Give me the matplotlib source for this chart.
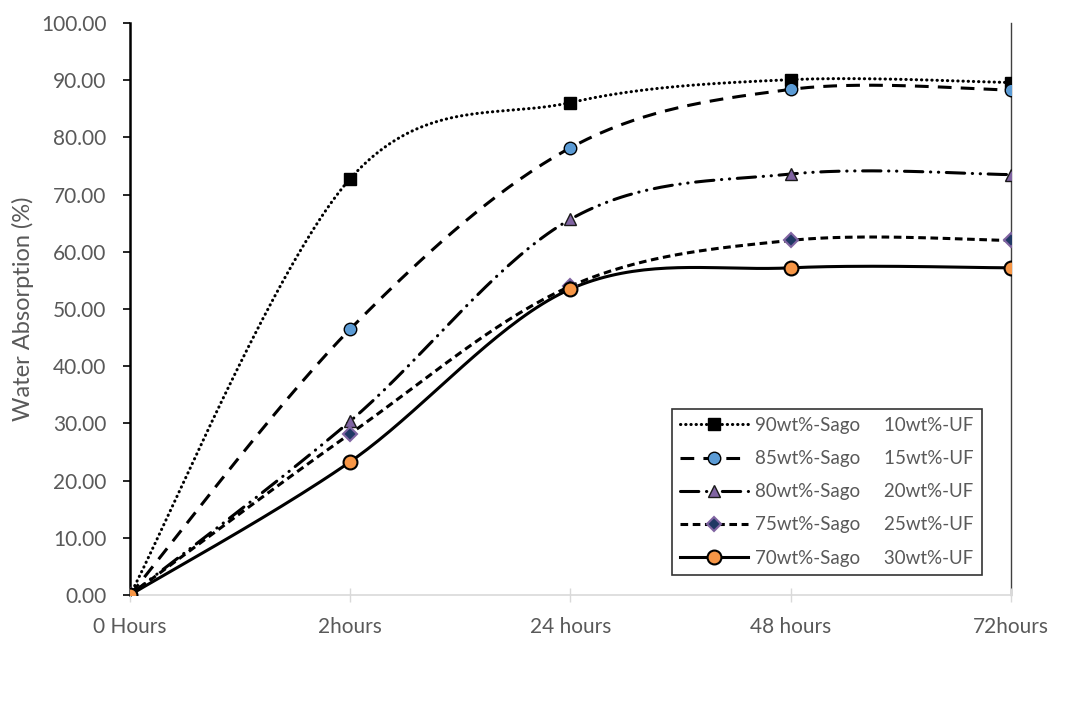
import numpy as np
import matplotlib; matplotlib.use("Agg")
import matplotlib.pyplot as plt
from matplotlib.lines import Line2D

plt.rcParams["font.family"] = ["Lato", "DejaVu Sans"]

categories = ["0 Hours", "2hours", "24 hours", "48 hours", "72hours"]
sago_90 = [0.0, 72.8, 86.1, 90.1, 89.6]
sago_85 = [0.0, 46.5, 78.2, 88.4, 88.3]
sago_80 = [0.0, 30.4, 65.7, 73.6, 73.5]
sago_75 = [0.0, 28.2, 54.0, 62.0, 62.0]
sago_70 = [0.0, 23.3, 53.5, 57.2, 57.2]
labels = ["90wt%-Sago     10wt%-UF", "85wt%-Sago     15wt%-UF", "80wt%-Sago     20wt%-UF",
          "75wt%-Sago     25wt%-UF", "70wt%-Sago     30wt%-UF"]

def smooth(y, n=40):
    # Excel-like smoothed line: Catmull-Rom style cubic Bezier between points
    x = np.arange(len(y), dtype=float); y = np.asarray(y, float)
    P = np.column_stack([x, y])
    xs, ys = [], []
    for i in range(len(P) - 1):
        p0 = P[i - 1] if i > 0 else P[i]
        p3 = P[i + 2] if i + 2 < len(P) else P[i + 1]
        c1 = P[i] + (P[i + 1] - p0) / 6
        c2 = P[i + 1] - (p3 - P[i]) / 6
        t = np.linspace(0, 1, n)[:, None]
        b = (1-t)**3*P[i] + 3*(1-t)**2*t*c1 + 3*(1-t)*t**2*c2 + t**3*P[i+1]
        xs.append(b[:, 0]); ys.append(b[:, 1])
    return np.concatenate(xs), np.concatenate(ys)

series = [
    (sago_90, dict(ls=(0, (0.1, 1.6)), dash_capstyle="round"), dict(marker="s", ms=9, mfc="black", mec="black")),
    (sago_85, dict(ls=(0, (4.5, 3))), dict(marker="o", ms=9, mfc="#5B9BD5", mec="black")),
    (sago_80, dict(ls=(0, (6, 2.5, 0.1, 2.5, 0.1, 2.5)), dash_capstyle="round"), dict(marker="^", ms=9, mfc="#8064A2", mec="#1a1a1a", mew=1)),
    (sago_75, dict(ls=(0, (2.5, 1.5))), dict(marker="D", ms=7, mfc="#1F3864", mec="#8064A2", mew=1.5)),
    (sago_70, dict(ls="-"), dict(marker="o", ms=10, mfc="#F79646", mec="black", mew=1.5)),
]

fig = plt.figure(figsize=(10.76, 7.02), dpi=100)
ax = fig.add_axes([0.1208, 0.1524, 0.8188, 0.8148])
x = np.arange(len(categories))
handles = []
for vals, lk, mk in series:
    sx, sy = smooth(vals)
    ax.plot(sx, sy, color="black", lw=2.2, zorder=2, **lk)
    ax.plot(x, vals, ls="none", zorder=3, **mk)
    handles.append(Line2D([], [], color="black", lw=2.2, **lk, **mk))

ax.set_xlim(0, 4); ax.set_ylim(0, 100)
ax.set_yticks(np.arange(0, 101, 10))
ax.set_yticklabels([f"{v:.2f}" for v in np.arange(0, 101, 10)])
ax.set_xticks(x); ax.set_xticklabels(categories)
ax.tick_params(axis="y", direction="out", length=5, width=1.2, color="black", labelsize=15, labelcolor="#595959", pad=12)
ax.tick_params(axis="x", direction="inout", length=10, width=1, color="#D9D9D9", labelsize=15, labelcolor="#595959", pad=11)
ax.spines["top"].set_visible(False)
ax.spines["left"].set_linewidth(1.8)
ax.spines["bottom"].set_color("#D9D9D9"); ax.spines["bottom"].set_linewidth(1.2)
ax.spines["right"].set_color("#404040"); ax.spines["right"].set_linewidth(1)
for s in ax.spines.values():
    s.set_zorder(1)
ax.set_ylabel("Water Absorption (%)", fontsize=17, color="#595959", labelpad=5)

leg = ax.legend(handles, labels, loc="lower left", bbox_to_anchor=(0.615, 0.035, 0.352, 0.292), mode="expand",
                fontsize=13.5, frameon=True, fancybox=False, edgecolor="black", handlelength=3.6,
                handletextpad=0.4, labelcolor="#595959", labelspacing=0.86, borderpad=0.45, borderaxespad=0)
leg.get_frame().set_linewidth(1.2)
leg.set_zorder(5)

fig.savefig("out.png", dpi=100)
